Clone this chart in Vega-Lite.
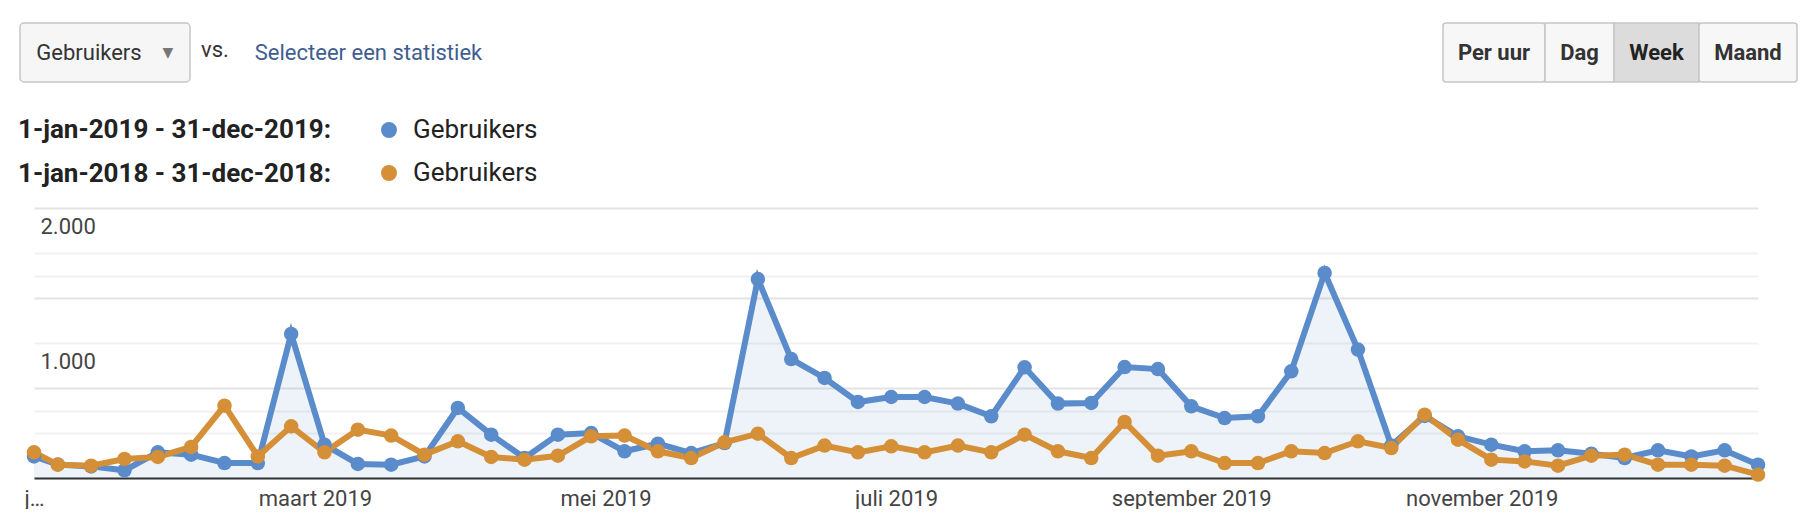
{
  "$schema": "https://vega.github.io/schema/vega-lite/v6.json",
  "padding": {"left": 18, "top": 22, "right": 0, "bottom": 0},
  "autosize": {"type": "pad"},
  "bounds": "flush",
  "spacing": 185,
  "config": {
    "font": "Roboto",
    "view": {"stroke": null},
    "concat": {"spacing": 0}
  },
  "datasets": {
    "weeks": [
      {"week": "2019/01/01", "2019": 160, "2018": 190},
      {"week": "2019/01/06", "2019": 100, "2018": 99},
      {"week": "2019/01/13", "2019": 86, "2018": 91},
      {"week": "2019/01/20", "2019": 57, "2018": 141},
      {"week": "2019/01/27", "2019": 190, "2018": 156},
      {"week": "2019/02/03", "2019": 173, "2018": 230},
      {"week": "2019/02/10", "2019": 111, "2018": 536},
      {"week": "2019/02/17", "2019": 111, "2018": 160},
      {"week": "2019/02/24", "2019": 1067, "2018": 383},
      {"week": "2019/03/03", "2019": 247, "2018": 190},
      {"week": "2019/03/10", "2019": 104, "2018": 358},
      {"week": "2019/03/17", "2019": 99, "2018": 314},
      {"week": "2019/03/24", "2019": 160, "2018": 173},
      {"week": "2019/03/31", "2019": 519, "2018": 272},
      {"week": "2019/04/07", "2019": 321, "2018": 156},
      {"week": "2019/04/14", "2019": 148, "2018": 136},
      {"week": "2019/04/21", "2019": 321, "2018": 165},
      {"week": "2019/04/28", "2019": 333, "2018": 309},
      {"week": "2019/05/05", "2019": 198, "2018": 314},
      {"week": "2019/05/12", "2019": 254, "2018": 198},
      {"week": "2019/05/19", "2019": 185, "2018": 148},
      {"week": "2019/05/26", "2019": 259, "2018": 264},
      {"week": "2019/06/02", "2019": 1474, "2018": 328},
      {"week": "2019/06/09", "2019": 881, "2018": 148},
      {"week": "2019/06/16", "2019": 741, "2018": 240},
      {"week": "2019/06/23", "2019": 563, "2018": 190},
      {"week": "2019/06/30", "2019": 600, "2018": 235},
      {"week": "2019/07/07", "2019": 600, "2018": 190},
      {"week": "2019/07/14", "2019": 551, "2018": 240},
      {"week": "2019/07/21", "2019": 457, "2018": 190},
      {"week": "2019/07/28", "2019": 820, "2018": 321},
      {"week": "2019/08/04", "2019": 551, "2018": 198},
      {"week": "2019/08/11", "2019": 556, "2018": 148},
      {"week": "2019/08/18", "2019": 822, "2018": 415},
      {"week": "2019/08/25", "2019": 807, "2018": 165},
      {"week": "2019/09/01", "2019": 531, "2018": 198},
      {"week": "2019/09/08", "2019": 444, "2018": 111},
      {"week": "2019/09/15", "2019": 457, "2018": 111},
      {"week": "2019/09/22", "2019": 790, "2018": 198},
      {"week": "2019/09/29", "2019": 1519, "2018": 185},
      {"week": "2019/10/06", "2019": 951, "2018": 272},
      {"week": "2019/10/13", "2019": 240, "2018": 222},
      {"week": "2019/10/20", "2019": 460, "2018": 469},
      {"week": "2019/10/27", "2019": 309, "2018": 284},
      {"week": "2019/11/03", "2019": 247, "2018": 136},
      {"week": "2019/11/10", "2019": 198, "2018": 123},
      {"week": "2019/11/17", "2019": 205, "2018": 91},
      {"week": "2019/11/24", "2019": 180, "2018": 165},
      {"week": "2019/12/01", "2019": 148, "2018": 173},
      {"week": "2019/12/08", "2019": 205, "2018": 99},
      {"week": "2019/12/15", "2019": 160, "2018": 99},
      {"week": "2019/12/22", "2019": 205, "2018": 91},
      {"week": "2019/12/29", "2019": 99, "2018": 25}
    ]
  },
  "vconcat": [
    {
      "bounds": "flush",
      "spacing": 0,
      "hconcat": [
        {
          "width": 170, "height": 59,
          "view": {"fill": "#f6f6f6", "stroke": "#c6c6c6", "strokeWidth": 1.5, "cornerRadius": 4},
          "layer": [
            {"data": {"values": [{"label": "Gebruikers"}]}, "mark": {"type": "text", "fontSize": 22, "color": "#333333", "dx": -16}, "encoding": {"text": {"field": "label"}}},
            {"data": {"values": [{"label": "▼"}]}, "mark": {"type": "text", "fontSize": 14, "color": "#777777", "dx": 63, "font": "DejaVu Sans"}, "encoding": {"text": {"field": "label"}}}
          ]
        },
        {
          "width": 50, "height": 59,
          "data": {"values": [{"label": "vs."}]},
          "mark": {"type": "text", "fontSize": 22, "color": "#333333", "dy": -3},
          "encoding": {"text": {"field": "label"}}
        },
        {
          "width": 257, "height": 59,
          "data": {"values": [{"label": "Selecteer een statistiek"}]},
          "mark": {"type": "text", "fontSize": 22, "color": "#3f5d8f"},
          "encoding": {"text": {"field": "label"}}
        },
        {
          "width": 946, "height": 59,
          "mark": {"type": "text"},
          "encoding": {"text": {"value": ""}}
        },
        {
          "width": 102, "height": 59,
          "view": {"fill": "#f7f7f7", "stroke": "#c6c6c6", "strokeWidth": 1.5, "cornerRadius": 3},
          "data": {"values": [{"label": "Per uur"}]},
          "mark": {"type": "text", "fontSize": 22, "fontWeight": "bold", "color": "#333333"},
          "encoding": {"text": {"field": "label"}}
        },
        {
          "width": 69, "height": 59,
          "view": {"fill": "#f7f7f7", "stroke": "#c6c6c6", "strokeWidth": 1.5, "cornerRadius": 0},
          "data": {"values": [{"label": "Dag"}]},
          "mark": {"type": "text", "fontSize": 22, "fontWeight": "bold", "color": "#333333"},
          "encoding": {"text": {"field": "label"}}
        },
        {
          "width": 85, "height": 59,
          "view": {"fill": "#dcdcdc", "stroke": "#c6c6c6", "strokeWidth": 1.5, "cornerRadius": 0},
          "data": {"values": [{"label": "Week"}]},
          "mark": {"type": "text", "fontSize": 22, "fontWeight": "bold", "color": "#222222"},
          "encoding": {"text": {"field": "label"}}
        },
        {
          "width": 98, "height": 59,
          "view": {"fill": "#f7f7f7", "stroke": "#c6c6c6", "strokeWidth": 1.5, "cornerRadius": 3},
          "data": {"values": [{"label": "Maand"}]},
          "mark": {"type": "text", "fontSize": 22, "fontWeight": "bold", "color": "#333333"},
          "encoding": {"text": {"field": "label"}}
        }
      ]
    },
    {
      "bounds": "flush",
      "spacing": 0,
      "hconcat": [
        {
          "width": 14, "height": 270,
          "mark": {"type": "text"},
          "encoding": {"text": {"value": ""}}
        },
        {
          "width": 1724, "height": 270,
          "data": {"name": "weeks"},
          "transform": [{"fold": ["2019", "2018"], "as": ["reeks", "gebruikers"]}],
          "encoding": {
            "x": {
              "field": "week", "type": "temporal",
              "scale": {"domain": [{"year": 2019, "month": 1, "date": 1}, {"year": 2019, "month": 12, "date": 29}], "nice": false},
              "axis": {
                "title": null, "grid": false, "ticks": false,
                "domainColor": "#333333", "domainWidth": 2,
                "values": [
                  {"year": 2019, "month": 1, "date": 1},
                  {"year": 2019, "month": 3, "date": 1},
                  {"year": 2019, "month": 5, "date": 1},
                  {"year": 2019, "month": 7, "date": 1},
                  {"year": 2019, "month": 9, "date": 1},
                  {"year": 2019, "month": 11, "date": 1}
                ],
                "labelExpr": "['j…','februari 2019','maart 2019','april 2019','mei 2019','juni 2019','juli 2019','augustus 2019','september 2019','oktober 2019','november 2019','december 2019'][month(datum.value)]",
                "labelFontSize": 22, "labelColor": "#444444", "labelPadding": 10,
                "labelFlush": false, "labelOverlap": false, "labelBound": false
              }
            },
            "y": {
              "field": "gebruikers", "type": "quantitative",
              "scale": {"domain": [0, 2000], "nice": false},
              "axis": {
                "title": null, "domain": false, "ticks": false, "tickSize": 0,
                "values": [0, 333.33, 500, 666.67, 1000, 1333.33, 1500, 1666.67, 2000],
                "gridColor": {"condition": {"test": "(datum.value > 600 && datum.value < 700) || (datum.value > 1300 && datum.value < 1400) || datum.value == 2000", "value": "#e3e3e3"}, "value": "#f1f1f1"},
                "gridWidth": 2,
                "labelExpr": "datum.value == 1000 ? '1.000' : (datum.value == 2000 ? '2.000' : '')",
                "labelAlign": "left", "labelBaseline": "middle", "labelPadding": -6, "labelOffset": 18,
                "labelFontSize": 22, "labelColor": "#444444"
              }
            }
          },
          "layer": [
            {
              "transform": [{"filter": "datum.reeks === '2019'"}],
              "mark": {"type": "area", "color": "#5a8bcb", "opacity": 0.1}
            },
            {
              "transform": [{"filter": "datum.reeks === '2019'"}],
              "mark": {"type": "line", "color": "#5a8bcb", "strokeWidth": 6}
            },
            {
              "transform": [{"filter": "datum.reeks === '2018'"}],
              "mark": {"type": "line", "color": "#d48f37", "strokeWidth": 6}
            },
            {
              "mark": {"type": "point", "filled": true, "size": 210, "opacity": 1},
              "encoding": {
                "color": {
                  "field": "reeks", "type": "nominal",
                  "scale": {"domain": ["2019", "2018"], "range": ["#5a8bcb", "#d48f37"]},
                  "legend": {
                    "orient": "none", "legendX": -2, "legendY": 94,
                    "title": ["1-jan-2019 - 31-dec-2019:", "1-jan-2018 - 31-dec-2018:"],
                    "titleOrient": "left", "titleFontSize": 26, "titleFontWeight": "bold", "titleColor": "#222222",
                    "titleLineHeight": 44, "titlePadding": 44, "titleBaseline": "middle", "titleLimit": 1000,
                    "labelExpr": "'Gebruikers'", "labelFontSize": 26, "labelColor": "#222222", "labelOffset": 11,
                    "symbolType": "circle", "symbolSize": 254, "symbolStrokeWidth": 0, "symbolOpacity": 1,
                    "rowPadding": 17, "padding": 0
                  }
                }
              }
            }
          ]
        }
      ]
    }
  ]
}
